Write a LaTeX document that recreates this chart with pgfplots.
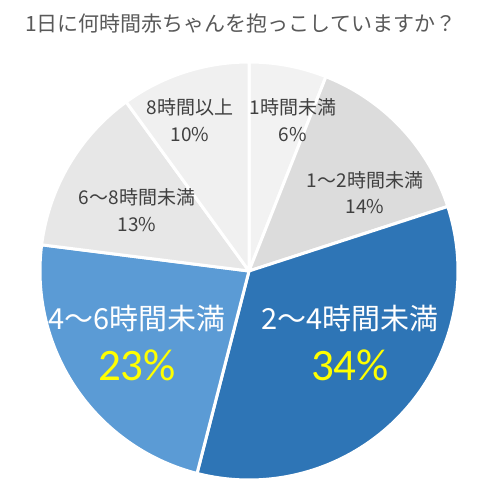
\documentclass[border=0pt]{standalone}
\usepackage{fontspec}
\setmainfont{Noto Sans CJK JP}
\newfontfamily\num{Carlito}
\usepackage{pgfplots}
\pgfplotsset{compat=1.18}
\definecolor{titlegray}{HTML}{595959}
\definecolor{labgray}{HTML}{404040}
\definecolor{cA}{HTML}{F2F2F2}
\definecolor{cB}{HTML}{DCDCDC}
\definecolor{cC}{HTML}{2E75B6}
\definecolor{cD}{HTML}{5B9BD5}
\definecolor{cE}{HTML}{E7E7E7}
\definecolor{cF}{HTML}{F0F0F0}
\definecolor{yel}{HTML}{FFFF00}
% cumulative start (%), share (%), colour
\newcommand\slice[3]{%
  \addplot[fill=#3, draw=white, line width=3pt, line join=round,
    domain={90-3.6*(#1+#2)}:{90-3.6*#1}, samples=80, variable=\t]
    ({249+209*cos(\t)},{228+209*sin(\t)}) -- (axis cs:249,228) -- cycle;}
\begin{document}
\begin{tikzpicture}
\begin{axis}[hide axis, x=1pt, y=1pt, xmin=0, xmax=500, ymin=0, ymax=499,
  clip=false]
\path (axis cs:0,0) rectangle (axis cs:500,499);
\slice{0}{6}{cA}
\slice{6}{14}{cB}
\slice{20}{34}{cC}
\slice{54}{23}{cD}
\slice{77}{13}{cE}
\slice{90}{10}{cF}
\node[anchor=west, text=titlegray, font=\fontsize{21}{24}\selectfont, inner sep=0pt] at (axis cs:25,475) {1日に何時間赤ちゃんを抱っこしていますか？};
% small labels
\begin{scope}[every node/.style={text=labgray, inner sep=0pt, font=\fontsize{19}{22}\selectfont}]
\node at (axis cs:293,392) {1時間未満};
\node at (axis cs:293,364) {6\%};
\node at (axis cs:190,392) {8時間以上};
\node at (axis cs:190,364) {10\%};
\node at (axis cs:365,319) {1～2時間未満};
\node at (axis cs:365,292) {14\%};
\node at (axis cs:137,302) {6～8時間未満};
\node at (axis cs:137,274) {13\%};
\end{scope}
\node[text=white, inner sep=0pt, font=\fontsize{29}{32}\selectfont] at (axis cs:350,181) {2～4時間未満};
\node[text=white, inner sep=0pt, font=\fontsize{29}{32}\selectfont] at (axis cs:137,181) {4～6時間未満};
\node[text=yel, inner sep=0pt, font=\num\fontsize{45}{48}\selectfont] at (axis cs:350,134) {34\%};
\node[text=yel, inner sep=0pt, font=\num\fontsize{45}{48}\selectfont] at (axis cs:137,134) {23\%};
\end{axis}
\end{tikzpicture}
\end{document}
